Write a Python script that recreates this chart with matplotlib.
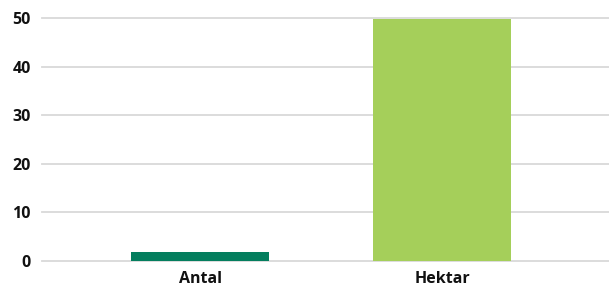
import matplotlib
matplotlib.use("Agg")
import matplotlib.pyplot as plt

categories = ["Antal", "Hektar"]
values = [1.9, 49.7]
colors = ["#047E5E", "#A5CF5A"]
yticks = [0, 10, 20, 30, 40, 50]

plt.rcParams['font.family'] = ['Open Sans', 'DejaVu Sans']

fig = plt.figure(figsize=(6.09, 2.88), dpi=100)
ax = fig.add_axes([42/609, 27/288, 1 - 42/609, (261-18)/288])
x = list(range(len(categories)))
ax.bar(x, values, width=0.57, color=colors, zorder=3)
ax.set_xlim(-0.653, 1.69)
ax.set_ylim(0, 50)
ax.set_yticks(yticks)
ax.set_xticks(x)
ax.set_xticklabels(categories)
ax.grid(axis='y', color='#D9D9D9', linewidth=1.3, zorder=0)
for gl in ax.get_ygridlines():
    gl.set_clip_on(False)
for s in ax.spines.values():
    s.set_visible(False)
ax.tick_params(length=0)
ax.tick_params(axis='y', pad=8)
ax.tick_params(axis='x', pad=7)
for lab in ax.get_xticklabels() + ax.get_yticklabels():
    lab.set_fontweight('bold')
    lab.set_fontsize(11.5)
    lab.set_color('#111111')
fig.savefig("out.png", dpi=100)
